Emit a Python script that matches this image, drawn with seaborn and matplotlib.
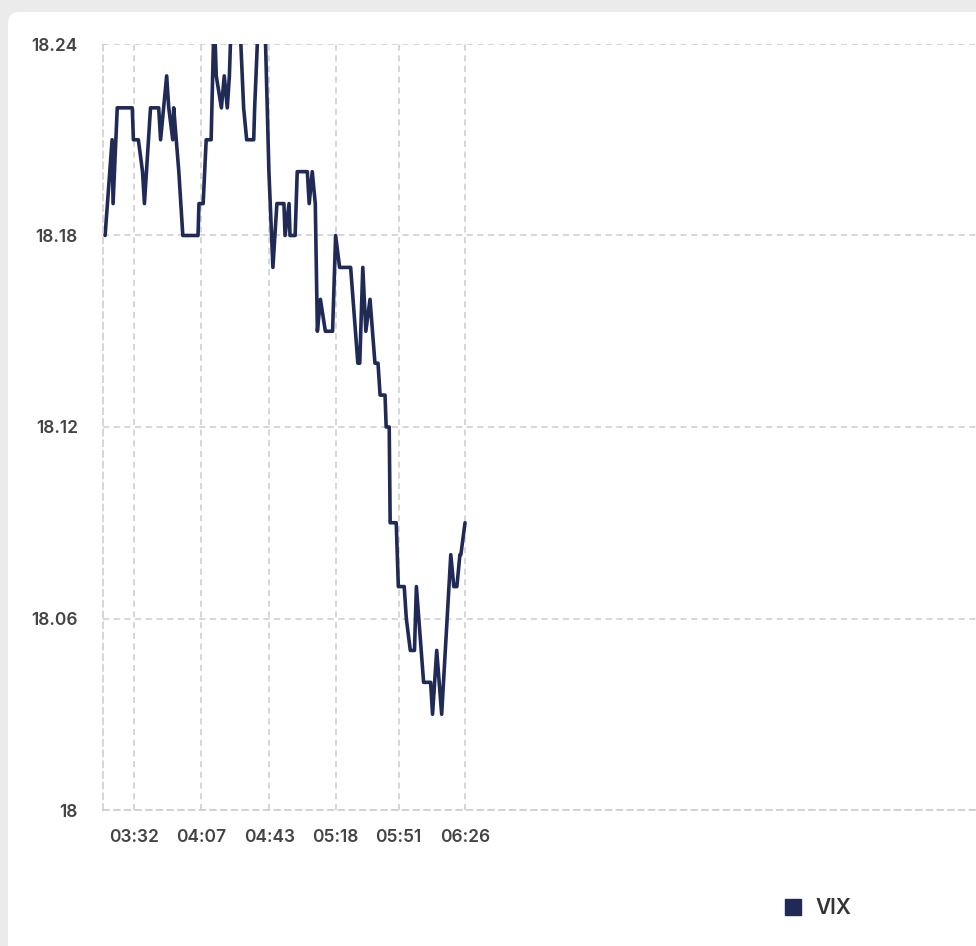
import matplotlib
matplotlib.use("Agg")
import matplotlib.pyplot as plt
import seaborn as sns
import pandas as pd
from matplotlib.patches import FancyBboxPatch
from matplotlib.lines import Line2D

minutes = [196.6,200.3,200.8,203.0,210.9,211.5,214.1,216.3,217.3,220.5,224.8,225.8,229.0,230.1,232.2,232.7,
           235.4,237.5,245.5,246.0,248.2,249.8,252.4,254.0,255.1,257.8,259.3,260.9,262.0,263.1,267.3,269.5,
           271.1,274.8,275.3,277.4,280.6,282.8,284.9,287.0,290.7,291.3,293.4,293.9,296.6,297.7,303.0,304.0,
           305.6,307.2,308.3,309.9,312.5,316.3,317.9,320.0,325.8,329.6,330.6,332.2,333.8,336.0,338.6,340.2,
           341.3,343.9,344.5,346.1,346.6,349.8,350.9,354.0,355.1,357.2,359.4,360.4,364.2,367.9,368.9,371.1,
           373.7,378.5,380.1,381.7,383.3,383.8,386.0]
vix = [18.18,18.21,18.19,18.22,18.22,18.21,18.21,18.20,18.19,18.22,18.22,18.21,18.23,18.22,18.21,18.22,
       18.20,18.18,18.18,18.19,18.19,18.21,18.21,18.25,18.23,18.22,18.23,18.22,18.23,18.25,18.25,18.22,
       18.21,18.21,18.22,18.25,18.25,18.20,18.17,18.19,18.19,18.18,18.19,18.18,18.18,18.20,18.20,18.19,
       18.20,18.19,18.15,18.16,18.15,18.15,18.18,18.17,18.17,18.14,18.14,18.17,18.15,18.16,18.14,18.14,
       18.13,18.13,18.12,18.12,18.09,18.09,18.07,18.07,18.06,18.05,18.05,18.07,18.04,18.04,18.03,18.05,
       18.03,18.08,18.07,18.07,18.08,18.08,18.09]
tick_minutes = [212, 247, 283, 318, 351, 386]
tick_labels = ["03:32", "04:07", "04:43", "05:18", "05:51", "06:26"]
y_ticks = [18.0, 18.06, 18.12, 18.18, 18.24]
y_labels = ["18", "18.06", "18.12", "18.18", "18.24"]

df = pd.DataFrame({"t": minutes, "VIX": vix})

sns.set_theme(style="white")
plt.rcParams['font.family'] = ['Inter', 'DejaVu Sans']

W, H = 976, 946
fig = plt.figure(figsize=(W/100, H/100), dpi=100, facecolor="#ebebeb")
card = FancyBboxPatch((8/W, -0.05), 1.2, (946-12)/H + 0.05, boxstyle="round,pad=0,rounding_size=0.012",
                      transform=fig.transFigure, facecolor="white", edgecolor="none", zorder=-10)
fig.patches.append(card)
ax = fig.add_axes([103/W, (H-810)/H, (W-103)/W + 0.01, (810-44)/H])
ax.set_zorder(5)
ax.set_facecolor("none")
sns.lineplot(data=df, x="t", y="VIX", ax=ax, color="#1f2a56", linewidth=2.6, legend=False)
ax.set_xlim(195.5, 660)
ax.set_ylim(18.0, 18.24)
ax.set_xticks(tick_minutes)
ax.set_xticklabels(tick_labels)
ax.set_yticks(y_ticks)
ax.set_yticklabels(y_labels)
ax.set_xlabel("")
ax.set_ylabel("")
ax.grid(True, color="#cccccc", linestyle=(0, (4, 3)), linewidth=1.1)
for s in ["top", "right"]:
    ax.spines[s].set_visible(False)
for s in ["left", "bottom"]:
    ax.spines[s].set_color("#cccccc")
    ax.spines[s].set_linestyle((0, (4, 3)))
    ax.spines[s].set_linewidth(1.1)
ax.tick_params(length=0, labelsize=12.5, labelcolor="#444444", pad=14)
for lbl in ax.get_xticklabels() + ax.get_yticklabels():
    lbl.set_fontweight("semibold")
ax.tick_params(axis="y", pad=18)

handle = Line2D([], [], marker="s", linestyle="none", markersize=11, markerfacecolor="#1f2a56",
                markeredgecolor="#1f2a56")
leg = fig.legend([handle], ["VIX"], loc="center", bbox_to_anchor=(812/W, (H-908)/H), frameon=False,
                 prop={"size": 15, "weight": "semibold"}, handletextpad=0.1, labelcolor="#333333")
leg.set_zorder(6)

fig.savefig("out.png", dpi=100, facecolor=fig.get_facecolor())
